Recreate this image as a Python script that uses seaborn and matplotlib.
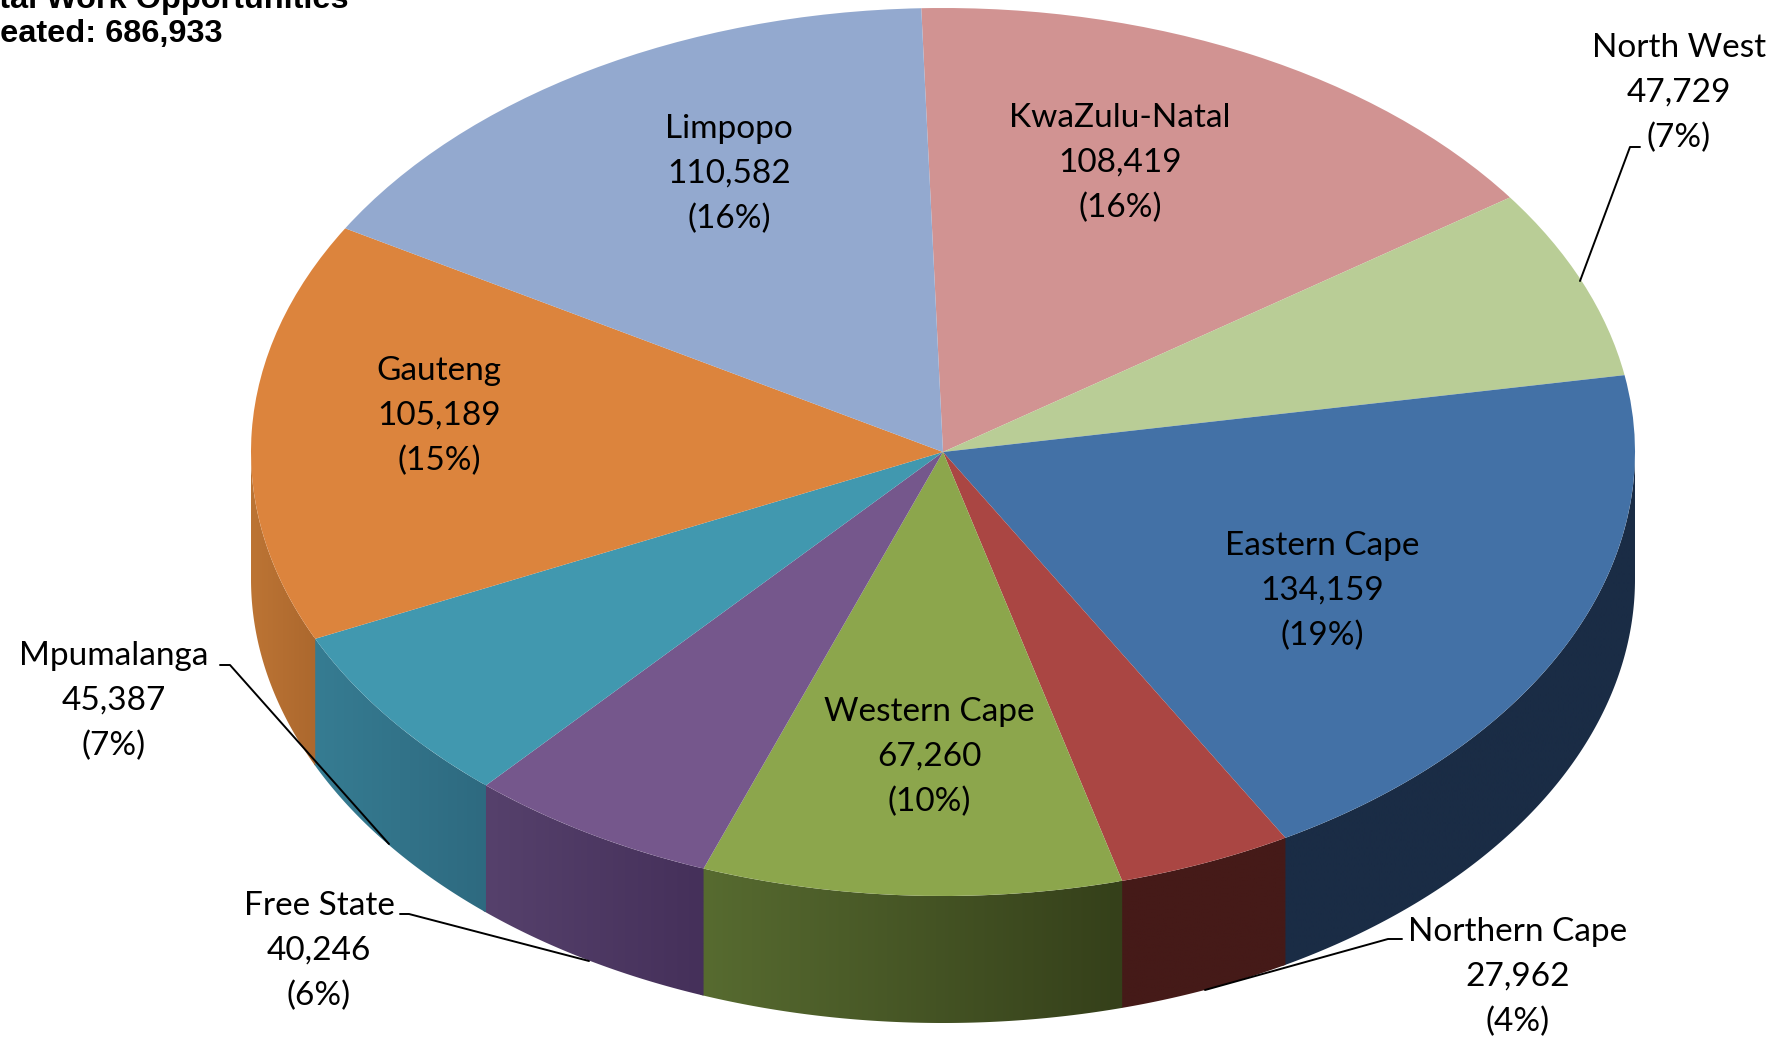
import numpy as np
import matplotlib
matplotlib.use("Agg")
import matplotlib.pyplot as plt
import seaborn as sns
from matplotlib.lines import Line2D
from matplotlib.patches import Polygon

provinces = ["KwaZulu-Natal", "North West", "Eastern Cape", "Northern Cape", "Western Cape",
             "Free State", "Mpumalanga", "Gauteng", "Limpopo"]
work_opps = [108419, 47729, 134159, 27962, 67260, 40246, 45387, 105189, 110582]
percent_labels = ["16%", "7%", "19%", "4%", "10%", "6%", "7%", "15%", "16%"]
top_colors = ["#D19392", "#B9CD96", "#4371A6", "#AA4643", "#8CA64C", "#75578C", "#4198AF", "#DC843D", "#93A9CF"]
side_left = ["#8A5C5C", "#7A8A62", "#1A2C45", "#451A18", "#576B30", "#56416C", "#367C92", "#BC7434", "#5F7090"]
side_right = ["#8A5C5C", "#7A8A62", "#1A2C45", "#451A18", "#35401A", "#45305A", "#2E6A80", "#AC682E", "#5F7090"]
title_lines = ["Total Work Opportunities", "Created: 686,933"]

W, H = 1786, 1037
CX, CY, RX, RY = 943, 452, 692, 444
DEPTH = 127 / RY

# label centres and leader lines, in reference pixels
label_pos = {"KwaZulu-Natal": (1120, 163), "North West": (1679, 93), "Eastern Cape": (1322, 591),
             "Northern Cape": (1518, 977), "Western Cape": (929, 757), "Free State": (319, 951),
             "Mpumalanga": (114, 701), "Gauteng": (439, 416), "Limpopo": (729, 174)}
leaders = [[(1640, 147), (1630, 147), (1580, 281)],
           [(220, 665), (230, 665), (389, 844)],
           [(400, 914), (409, 914), (589, 961)],
           [(1402, 939), (1388, 939), (1205, 990)]]

sns.set_theme(style="white")
plt.rcParams["font.family"] = ["Lato", "DejaVu Sans"]

fig = plt.figure(figsize=(W / 100, H / 100), dpi=100)
ax = fig.add_axes([0, 0, 1, 1])

wedges, _ = ax.pie(work_opps, colors=sns.color_palette(top_colors), startangle=91.8,
                   counterclock=False, radius=1, wedgeprops={"linewidth": 0, "zorder": 3})
ax.set_aspect("auto")
xlim = (-CX / RX, (W - CX) / RX)
ylim = ((CY - H) / RY, CY / RY)


def side_wall(wedge, left, right):
    # front part of the rim only, the back is hidden by the top
    for k in (-360, 0, 360):
        lo, hi = max(wedge.theta1 + k - 0.3, 180), min(wedge.theta2 + k, 360)
        if lo >= hi:
            continue
        t = np.radians(np.linspace(lo, hi, 200))
        x, y = np.cos(t), np.sin(t)
        pts = np.r_[np.c_[x, y], np.c_[x[::-1], y[::-1] - DEPTH]]
        poly = Polygon(pts, closed=True, transform=ax.transData, fc="none", ec="none")
        ax.add_patch(poly)
        cl = np.array(matplotlib.colors.to_rgb(left))
        cr = np.array(matplotlib.colors.to_rgb(right))
        grad = np.linspace(cl, cr, 64)[None, :, :]
        im = ax.imshow(grad, extent=(x.min(), x.max(), y.min() - DEPTH, y.max()),
                       aspect="auto", zorder=2, interpolation="bilinear")
        im.set_clip_path(poly)


for w, cl, cr in zip(wedges, side_left, side_right):
    side_wall(w, cl, cr)

ax.set_xlim(xlim)
ax.set_ylim(ylim)
ax.axis("off")

for name, val, pct in zip(provinces, work_opps, percent_labels):
    px, py = label_pos[name]
    fig.text(px / W, 1 - py / H, f"{name}\n{val:,}\n({pct})", ha="center", va="center",
             fontsize=24, color="black", linespacing=1.63, zorder=6)

for pts in leaders:
    xs = [p[0] / W for p in pts]
    ys = [1 - p[1] / H for p in pts]
    fig.add_artist(Line2D(xs, ys, color="black", lw=1.4, zorder=5))

fig.text(349 / W, 1 - 8 / H, title_lines[0], ha="right", va="baseline", fontsize=23.4,
         fontweight="bold", family="Liberation Sans", color="black")
fig.text(222 / W, 1 - 42 / H, title_lines[1], ha="right", va="baseline", fontsize=23.4,
         fontweight="bold", family="Liberation Sans", color="black")

fig.savefig("out.png", dpi=100, facecolor="white")
plt.close(fig)
